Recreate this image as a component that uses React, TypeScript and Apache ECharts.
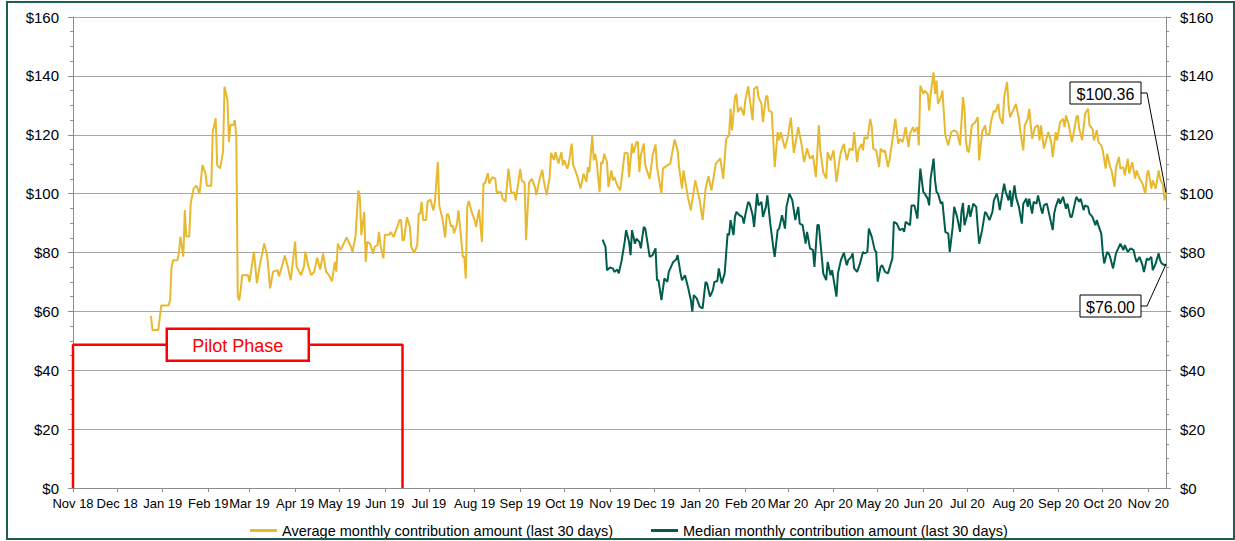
import React, { useEffect, useRef } from "react";
import * as echarts from "echarts";

// ---------- DATA ----------
const START_UTC = Date.UTC(2018, 10, 1); // first category: 1 Nov 2018
const DAY_COUNT = 744; // through 13 Nov 2020
const MONTHS = ["Jan", "Feb", "Mar", "Apr", "May", "Jun", "Jul", "Aug", "Sep", "Oct", "Nov", "Dec"];
const AVG_NAME = "Average monthly contribution amount (last 30 days)";
const MED_NAME = "Median monthly contribution amount (last 30 days)";
const Y_MIN = 0;
const Y_MAX = 160;
const Y_STEP = 20;

// [day index since 1 Nov 2018, value]
const avgPoints: [number, number][] = [
  [53,58.5],[54,53.7],[58,53.7],[60,62],[65,62],[66,63.9],[67,75.2],[68,77.4],[71,77.4],[72,79.7],[73,85.4],[75,78.6],[76,94.4],[77,85.4],[79,85.4],[80,96.7],[82,101.8],[84,102.7],[86,99.9],[88,109.7],[90,107],[91,102.7],[94,102.7],[95,121],[97,125.6],[98,109.7],[100,108.6],[102,114.2],[103,136.3],[105,131.8],[106,117.6],[107,123.3],[109,123.3],[110,125],[111,119.4],[112,65],[113,63.7],[114,67.3],[115,72.3],[117,72.3],[119,72.3],[120,70],[123,80.3],[125,69.5],[127,75.7],[130,83.1],[132,79],[134,67.8],[136,73.5],[139,74],[140,71.9],[142,75.2],[144,79],[146,75.2],[148,70.6],[151,83.7],[152,75.2],[155,72.3],[157,75.2],[158,80.3],[160,75.2],[162,72.3],[164,73.5],[166,78.2],[168,74.2],[170,79.7],[172,73.5],[174,72.3],[176,70.2],[178,76.8],[179,73.5],[180,83],[182,80.8],
  [184,83],[186,85.1],[189,81.9],[190,80.2],[192,85.3],[194,101.1],[195,98.8],[196,85.9],[198,93.8],[199,76.8],[200,83.6],[202,83],[204,79.6],[205,81.9],[207,82.5],[208,87],[209,82.5],[211,78],[212,86],[215,86],[216,87],[218,85.3],[220,88.1],[222,91],[223,91],[224,84.2],[225,84.2],[227,92],[229,88.7],[230,81.8],[232,79.9],[234,82.5],[235,93.2],[236,93.2],[237,97.2],[238,91],[240,91],[241,97.2],[243,98],[245,94.3],[246,97.2],[248,110.7],[249,96],[250,93.8],[251,92],[253,85.1],[254,92.6],[255,93.2],[257,88.7],[258,89.3],[259,86.6],[261,89.6],[262,94.3],[263,89.3],[265,78.5],[266,78.5],[267,71.2],[268,95.5],[269,97.5],[271,93.8],[273,91],[274,88.7],[276,94.6],[278,83.6],[279,103.4],[280,103.4],[282,107],[283,103.4],[285,105.6],[287,105.1],[288,100.5],[291,100.5],[292,98.3],[294,97.3],[296,108.5],[298,100],[300,100.5],[301,97.7],[304,108.4],[305,104.5],[307,103.7],[308,84.2],[310,103.7],
  [312,105],[314,102.2],[315,99.5],[317,104.5],[319,108.1],[320,104.5],[322,99.5],[324,105.6],[325,113.8],[327,111.5],[328,114.1],[330,110.2],[332,114.1],[333,109.6],[334,111.3],[336,108.5],[337,110.2],[339,117],[340,109.6],[341,108.5],[343,105.6],[345,101.7],[346,104],[347,106.8],[349,104],[350,109],[351,107.3],[353,119.8],[354,111.3],[355,113.5],[356,110.7],[358,100.5],[359,110.7],[360,110.2],[361,113.5],[363,110.7],[364,102.2],[366,107.9],[367,104.5],[368,105.6],[370,102.8],[372,101.1],[374,109.6],[375,113.8],[377,113.8],[378,105.6],[380,117],[381,113.8],[383,117.5],[384,117.5],[385,107.3],[386,113],[388,117],[389,109.6],[392,105],[394,113],[396,116.7],[397,109],[400,100],[401,108.5],[404,109.6],[406,110.2],[409,118.4],[411,114.7],[412,109],[414,101.7],[415,107.9],[418,98.8],[420,94.3],[423,104.5],[426,97.7],[428,91],[430,101.7],[432,105.9],[434,101.1],[437,110.2],[440,112],[442,105],
  [444,118.6],[446,119.8],[447,128.8],[448,121.5],[450,132.8],[451,133.9],[452,127.7],[454,129.4],[456,126.6],[457,131.6],[459,136.4],[460,132.2],[462,124.9],[463,135.6],[465,136.4],[466,132.8],[468,130.5],[469,124.3],[471,132.8],[472,133.3],[473,128.2],[475,127.7],[477,109],[479,120.9],[480,118.1],[481,120.9],[484,115.3],[486,119.5],[488,125.8],[490,113.8],[493,122.6],[495,117.5],[497,110.7],[499,115.3],[501,111.9],[503,113],[505,105.6],[507,123.2],[508,114.7],[510,107.3],[512,105.1],[513,114.1],[515,111.3],[517,114.7],[519,104],[521,111.3],[522,114.1],[524,116.9],[526,111.3],[528,115.3],[530,114.7],[531,120.9],[533,110.7],[534,114.7],[536,116.9],[537,114.7],[538,119.2],[540,118.6],[542,125.4],[543,122.6],[544,115.3],[546,114.7],[548,109],[549,115.3],[551,114.1],[552,114.7],[554,109],[555,111.3],[557,118.1],[559,125.4],[561,116.9],[562,118.6],[564,117.5],[566,122.6],[568,115.8],[569,120.3],[571,122.6],[572,120.9],[574,122.6],[575,116.4],
  [576,136.7],[578,133.9],[579,135],[581,133.9],[582,128.2],[583,133.9],[585,141.2],[586,133.9],[587,138.4],[588,130.5],[590,132.8],[591,135],[593,119.8],[595,116.4],[597,120.9],[599,121.5],[601,120.9],[603,116.4],[605,132.8],[606,128.8],[607,118],[608,114.5],[609,114.1],[611,123.2],[613,124],[615,126],[616,111.3],[618,120.9],[620,123.2],[621,119.8],[623,120.3],[624,124.3],[626,128.2],[627,127.7],[629,130.5],[630,126],[632,123.7],[633,132.8],[635,137.9],[636,129.9],[637,126],[639,128.2],[641,130.5],[643,125.4],[644,120.9],[646,114.7],[647,123.2],[649,125.4],[650,128.8],[652,118.6],[654,122.6],[656,123.2],[657,118.1],[658,123.2],[660,115.3],[662,119.2],[663,120.9],[665,117.5],[666,112.4],[668,120.9],[669,118.1],[671,124.3],[673,125.4],[674,122.6],[675,126.6],[677,123.2],[679,117.5],[681,122.6],[682,126],[683,126.6],[684,122],[686,118.1],[688,127.1],[690,128.8],[691,123.2],[693,122],[694,118.1],[696,121.5],[697,117.5],[699,116.4],[700,114.7],
  [702,108.5],[703,113.6],[705,109],[706,107.9],[708,102.3],[709,109],[711,112.4],[712,108.5],[714,109],[715,106.2],[717,111.9],[718,106.8],[720,110.7],[722,105.1],[723,107.9],[725,105.1],[727,103.4],[729,100],[730,106.2],[731,107.9],[733,101.7],[734,104.5],[736,101.7],[738,107.9],[739,105.1],[741,102.8],[742,97.7],[743,100.36]
];

const medPoints: [number, number][] = [
  [360,84.4],[362,81.9],[363,74],[365,74.9],[367,74.6],[368,73.4],[370,74.2],[371,72.9],[373,77.4],[375,83.6],[376,87.6],[378,83.6],[379,79.1],[380,87.6],[382,83],[383,84.7],[385,83.6],[386,81.4],[388,88.7],[389,88.1],[391,81.9],[392,78.5],[394,79.1],[396,81.4],[397,70.6],[398,70.6],[400,63.8],[402,71.2],[404,70],[405,73.4],[408,76.8],[410,77.6],[411,79.1],[413,72.9],[414,70.6],[416,72.3],[418,68.4],[420,63.8],[421,59.9],[422,65.5],[424,64.4],[426,61.6],[428,61],[430,70],[431,69.5],[433,65],[435,67.2],[436,70],[438,70.3],[439,74.6],[441,69.5],[443,72.9],
  [445,86.4],[446,85.9],[447,91],[449,85.9],[450,92.1],[451,93.8],[453,92.7],[455,92.1],[456,89.8],[457,92.7],[459,97.2],[460,96.6],[462,92.7],[463,88.7],[465,100],[466,96],[468,97.2],[469,92.1],[471,95.5],[472,99.4],[474,89.8],[476,81.9],[477,78.5],[479,87.6],[480,88.1],[482,92.7],[484,88.1],[485,95.5],[487,100],[489,97.7],[491,91],[493,95.5],[494,89.8],[496,89.3],[498,83],[499,87],[501,81.4],[503,80.8],[504,75.1],[506,89.3],[507,89.3],[509,78.5],[510,72.9],[512,70.6],[513,76.8],[515,72.3],[516,74],[519,65],[520,72.9],[522,77.4],[524,79.9],[526,75.7],[527,77.4],[529,78.5],[530,79.7],[531,74.6],[533,73.4],[535,76.3],[537,80.2],[538,79.7],[540,80.2],[541,88.1],[543,85.3],[545,80.8],[546,80.2],[547,70.1],[549,75.1],[550,75.7],[552,73.4],[554,72.9],[555,74.6],[557,78],
  [558,90.4],[560,89.8],[562,87.6],[564,88.1],[565,87],[566,90.4],[569,89.3],[570,96],[572,96],[574,91.5],[575,100.6],[576,108.5],[578,100.6],[579,100],[581,98.3],[582,96],[583,105.1],[585,111.9],[586,104.5],[587,100.6],[588,100],[590,96.6],[591,97.2],[593,87],[595,86.4],[596,80.2],[598,88.7],[599,95.5],[601,92.1],[603,87],[604,94],[605,96.8],[606,89.3],[608,93],[609,96.1],[610,92.1],[612,96.6],[614,95.5],[615,88.7],[616,83],[618,87.6],[620,93.8],[621,93.2],[623,91],[625,93.8],[626,97.7],[628,100],[629,97.7],[630,94.4],[632,100.6],[633,103.4],[634,100.6],[636,97.7],[637,101.1],[638,95.5],[640,102.8],[641,98.9],[643,95.5],[645,89.8],[646,96.6],[648,98.3],[649,95.5],[650,98.3],[652,93.2],[653,97.2],[655,96.6],[656,99.4],[658,94.9],[659,93.2],[660,96],[662,96.6],[664,92.1],[666,87.6],[667,93.2],[668,95.5],[670,98.3],[671,96.6],[673,98.9],[675,94.9],[676,96.6],[678,92.1],[679,92.1],[681,96.6],[682,98.9],[684,97.2],[685,98.3],[687,94.4],[688,96],[690,95.5],[691,93.2],[693,92.1],[695,89.3],[696,91],[697,89.3],[699,86.4],
  [700,80.2],[701,76.3],[703,80.2],[704,79.7],[705,78.5],[707,74.6],[709,79.7],[710,80.8],[712,83],[714,80.8],[715,82.5],[717,80.2],[719,81.4],[721,80.8],[722,78.5],[723,76.8],[725,78.5],[727,75.7],[728,73.4],[730,78],[731,77.4],[733,78.5],[734,74],[736,76.3],[738,79.7],[739,77.4],[740,76.3],[742,75.7],[743,76]
];

// Pilot phase bracket: from first day to the day the pilot ended, at this level
const pilotBracket: [number, number][] = [[0, 0], [0, 48.7], [224, 48.7], [224, 0]];
const pilotLabel = "Pilot Phase";
const pilotLabelAt: [number, number] = [112, 48.7];

const FONT = "'Liberation Sans', Arial, sans-serif";
const YELLOW = "#E8B92F";
const GREEN = "#005C4B";
const BORDER = "#1E5E50";
const RED = "#FF0000";

function buildDays(): string[] {
  const out: string[] = [];
  for (let i = 0; i < DAY_COUNT; i++) {
    out.push(new Date(START_UTC + i * 86400000).toISOString().slice(0, 10));
  }
  return out;
}

const isMonthStart = (_i: number, v: string) => typeof v === "string" && v.slice(8, 10) === "01";
const monthLabel = (v: string) => MONTHS[parseInt(v.slice(5, 7), 10) - 1] + " " + v.slice(2, 4);
const money = (v: number) => "$" + v;

export default function App() {
  const ref = useRef<HTMLDivElement>(null);

  useEffect(() => {
    if (!ref.current) return;
    const chart = echarts.init(ref.current, null, { renderer: "svg" });
    const days = buildDays();

    const yAxisBase = {
      type: "value",
      min: Y_MIN,
      max: Y_MAX,
      interval: Y_STEP,
      axisLine: { show: true, lineStyle: { color: "#8c8c8c", width: 1 } },
      axisTick: { show: true, length: 5, lineStyle: { color: "#8c8c8c" } },
      minorTick: { show: true, splitNumber: 4, length: 3, lineStyle: { color: "#8c8c8c" } },
      axisLabel: { formatter: money, fontSize: 15, color: "#000", margin: 14, fontFamily: FONT },
    };

    chart.setOption({
      animation: false,
      textStyle: { fontFamily: FONT },
      grid: { left: 73, right: 69, top: 17, bottom: 53, containLabel: false },
      legend: {
        data: [AVG_NAME, MED_NAME],
        left: 245,
        top: 518,
        icon: "rect",
        itemWidth: 27,
        itemHeight: 3,
        itemGap: 38,
        textStyle: { fontSize: 14.5, color: "#000", fontFamily: FONT },
      },
      xAxis: {
        type: "category",
        data: days,
        boundaryGap: false,
        axisLine: { lineStyle: { color: "#8c8c8c", width: 1 } },
        axisTick: { interval: isMonthStart, length: 4, lineStyle: { color: "#8c8c8c" } },
        axisLabel: {
          interval: isMonthStart,
          formatter: monthLabel,
          fontSize: 13,
          color: "#000",
          margin: 9,
          fontFamily: FONT,
        },
        splitLine: { show: false },
      },
      yAxis: [
        { ...yAxisBase, position: "left", splitLine: { show: true, lineStyle: { color: "#a6a6a6", width: 1 } } },
        { ...yAxisBase, position: "right", splitLine: { show: false } },
      ],
      series: [
        {
          name: AVG_NAME,
          type: "line",
          data: avgPoints,
          showSymbol: false,
          symbol: "none",
          lineStyle: { color: YELLOW, width: 2 },
          itemStyle: { color: YELLOW },
          z: 3,
        },
        {
          name: MED_NAME,
          type: "line",
          data: medPoints,
          showSymbol: false,
          symbol: "none",
          lineStyle: { color: GREEN, width: 2 },
          itemStyle: { color: GREEN },
          z: 4,
        },
        {
          name: "pilot",
          type: "line",
          data: pilotBracket,
          symbol: "none",
          lineStyle: { color: RED, width: 2.5 },
          itemStyle: { color: RED },
          z: 5,
        },
      ],
    });

    const lastAvg = avgPoints[avgPoints.length - 1];
    const lastMed = medPoints[medPoints.length - 1];
    const toPx = (p: [number, number]) =>
      chart.convertToPixel({ xAxisIndex: 0, yAxisIndex: 0 }, [p[0], p[1]]) as number[];
    const pA = toPx(lastAvg);
    const pM = toPx(lastMed);
    const pP = toPx(pilotLabelAt);

    const Z = 100;
    const callout = (text: string, x: number, y: number, w: number, h: number, end: number[]) => [
      {
        type: "polyline",
        z: Z,
        shape: { points: [[x + w, y + h / 2], [x + w + 6, y + h / 2], [end[0], end[1]]] },
        style: { stroke: "#000", lineWidth: 1, fill: "none" },
      },
      {
        type: "rect",
        z: Z,
        shape: { x, y, width: w, height: h },
        style: { fill: "#fff", stroke: "#000", lineWidth: 1 },
      },
      {
        type: "text",
        z: Z + 1,
        x: x + w / 2,
        y: y + h / 2 + 1,
        style: {
          text,
          fill: "#000",
          font: "16px " + FONT,
          textAlign: "center",
          textVerticalAlign: "middle",
        },
      },
    ];

    const pw = 142;
    const ph = 32;

    chart.setOption({
      graphic: [
        {
          type: "rect",
          z: Z,
          shape: { x: 7, y: 2, width: 1227, height: 537 },
          style: { fill: "none", stroke: BORDER, lineWidth: 2 },
          silent: true,
        },
        {
          type: "rect",
          z: Z,
          shape: { x: pP[0] - pw / 2, y: pP[1] - ph / 2, width: pw, height: ph },
          style: { fill: "#fff", stroke: RED, lineWidth: 2.5 },
        },
        {
          type: "text",
          z: Z + 1,
          x: pP[0],
          y: pP[1] + 1,
          style: {
            text: pilotLabel,
            fill: RED,
            font: "18px " + FONT,
            textAlign: "center",
            textVerticalAlign: "middle",
          },
        },
        ...callout("$" + lastAvg[1].toFixed(2), 1070, 82, 71, 22, pA),
        ...callout("$" + lastMed[1].toFixed(2), 1080, 295, 61, 22, pM),
      ],
    });

    return () => chart.dispose();
  }, []);

  return (
    <div
      ref={ref}
      style={{ position: "absolute", left: 0, top: 0, width: 1235, height: 541, background: "#fff" }}
    />
  );
}
